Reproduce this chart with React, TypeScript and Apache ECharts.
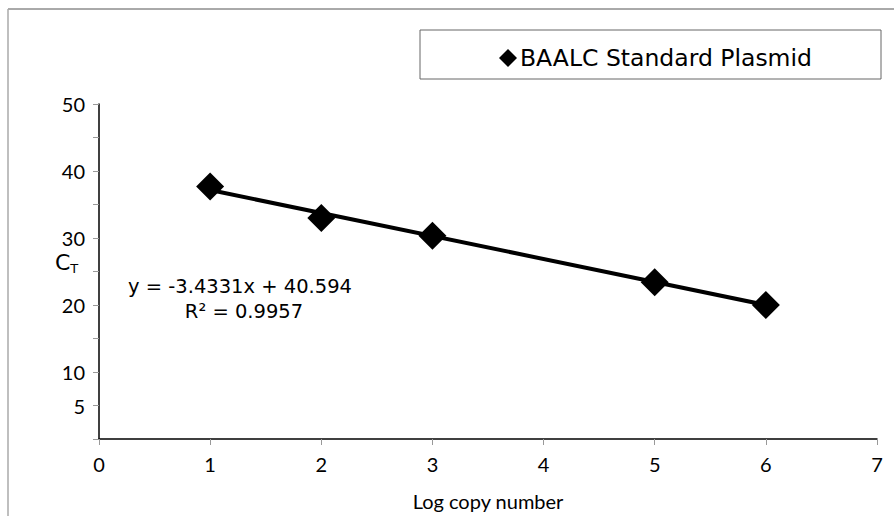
import React, { useEffect, useRef } from "react";
import * as echarts from "echarts";

const seriesName = "BAALC Standard Plasmid";
const logCopy = [1, 2, 3, 5, 6];
const ctValues = [37.7, 33.0, 30.35, 23.4, 20.0];
const trendX = [1, 6];
const trendY = [37.16, 20.0];
const yLabelValues = [5, 10, 20, 30, 40, 50];
const equationText = "y = -3.4331x + 40.594";
const r2Text = "R² = 0.9957";

const FONT = "Lato, 'Open Sans', sans-serif";
const FONT2 = "'DejaVu Sans', sans-serif";

export default function App() {
  const ref = useRef<HTMLDivElement>(null);
  useEffect(() => {
    if (!ref.current) return;
    const chart = echarts.init(ref.current, null, { renderer: "svg" });
    chart.setOption({
      animation: false,
      backgroundColor: "#ffffff",
      textStyle: { fontFamily: FONT },
      grid: { left: 99, right: 17, top: 104, bottom: 75 },
      legend: {
        left: 494,
        top: 41,
        itemWidth: 18,
        itemHeight: 18,
        itemGap: 4,
        icon: "diamond",
        data: [seriesName],
        itemStyle: { color: "#000", opacity: 1 },
        textStyle: { fontSize: 23.5, color: "#000", fontFamily: FONT2, padding: [0, 0, 0, -2] },
      },
      xAxis: {
        type: "value",
        min: 0,
        max: 7,
        interval: 1,
        name: "Log copy number",
        nameLocation: "middle",
        nameGap: 52,
        nameTextStyle: { fontSize: 20, color: "#000", fontFamily: FONT },
        axisLine: { lineStyle: { color: "#000", width: 1.5 } },
        axisTick: { show: true, length: 6, lineStyle: { color: "#999" } },
        axisLabel: { fontSize: 20, color: "#000", margin: 15, fontFamily: FONT },
        splitLine: { show: false },
      },
      yAxis: {
        type: "value",
        min: 0,
        max: 50,
        interval: 5,
        axisLine: { show: true, lineStyle: { color: "#000", width: 1.5 } },
        axisTick: { show: true, length: 6, lineStyle: { color: "#999" } },
        axisLabel: {
          fontSize: 20,
          color: "#000",
          margin: 14,
          fontFamily: FONT,
          formatter: (v: number) => (yLabelValues.includes(v) ? String(v) : ""),
        },
        splitLine: { show: false },
      },
      series: [
        {
          name: "trend",
          type: "line",
          data: trendX.map((x, i) => [x, trendY[i]]),
          symbol: "none",
          lineStyle: { color: "#000", width: 4 },
          z: 2,
        },
        {
          name: seriesName,
          type: "scatter",
          data: logCopy.map((x, i) => [x, ctValues[i]]),
          symbol: "diamond",
          symbolSize: 28,
          itemStyle: { color: "#000", opacity: 1 },
          z: 3,
        },
      ],
      graphic: [
        { type: "line", shape: { x1: 8, y1: 9, x2: 894, y2: 9 }, style: { stroke: "#555", lineWidth: 1 } },
        { type: "line", shape: { x1: 8, y1: 9, x2: 8, y2: 516 }, style: { stroke: "#aaa", lineWidth: 1.5 } },
        {
          type: "rect",
          shape: { x: 420, y: 30, width: 461, height: 49 },
          style: { fill: "none", stroke: "#666", lineWidth: 1 },
        },
        {
          type: "text",
          x: 240,
          y: 286,
          style: { text: equationText, font: `19.5px ${FONT2}`, fill: "#000", align: "center", verticalAlign: "middle" },
        },
        {
          type: "text",
          x: 244,
          y: 311,
          style: { text: r2Text, font: `19.5px ${FONT2}`, fill: "#000", align: "center", verticalAlign: "middle" },
        },
        {
          type: "text",
          x: 55,
          y: 262,
          style: {
            text: "{c|C}{t|T}",
            verticalAlign: "middle",
            rich: {
              c: { fontSize: 22, fontFamily: FONT2, color: "#000" },
              t: { fontSize: 13, fontFamily: FONT2, color: "#000", padding: [12, 0, 0, 0] },
            },
          },
        },
      ],
    });
    return () => chart.dispose();
  }, []);
  return <div ref={ref} style={{ position: "absolute", left: 0, top: 0, width: 894, height: 516 }} />;
}
